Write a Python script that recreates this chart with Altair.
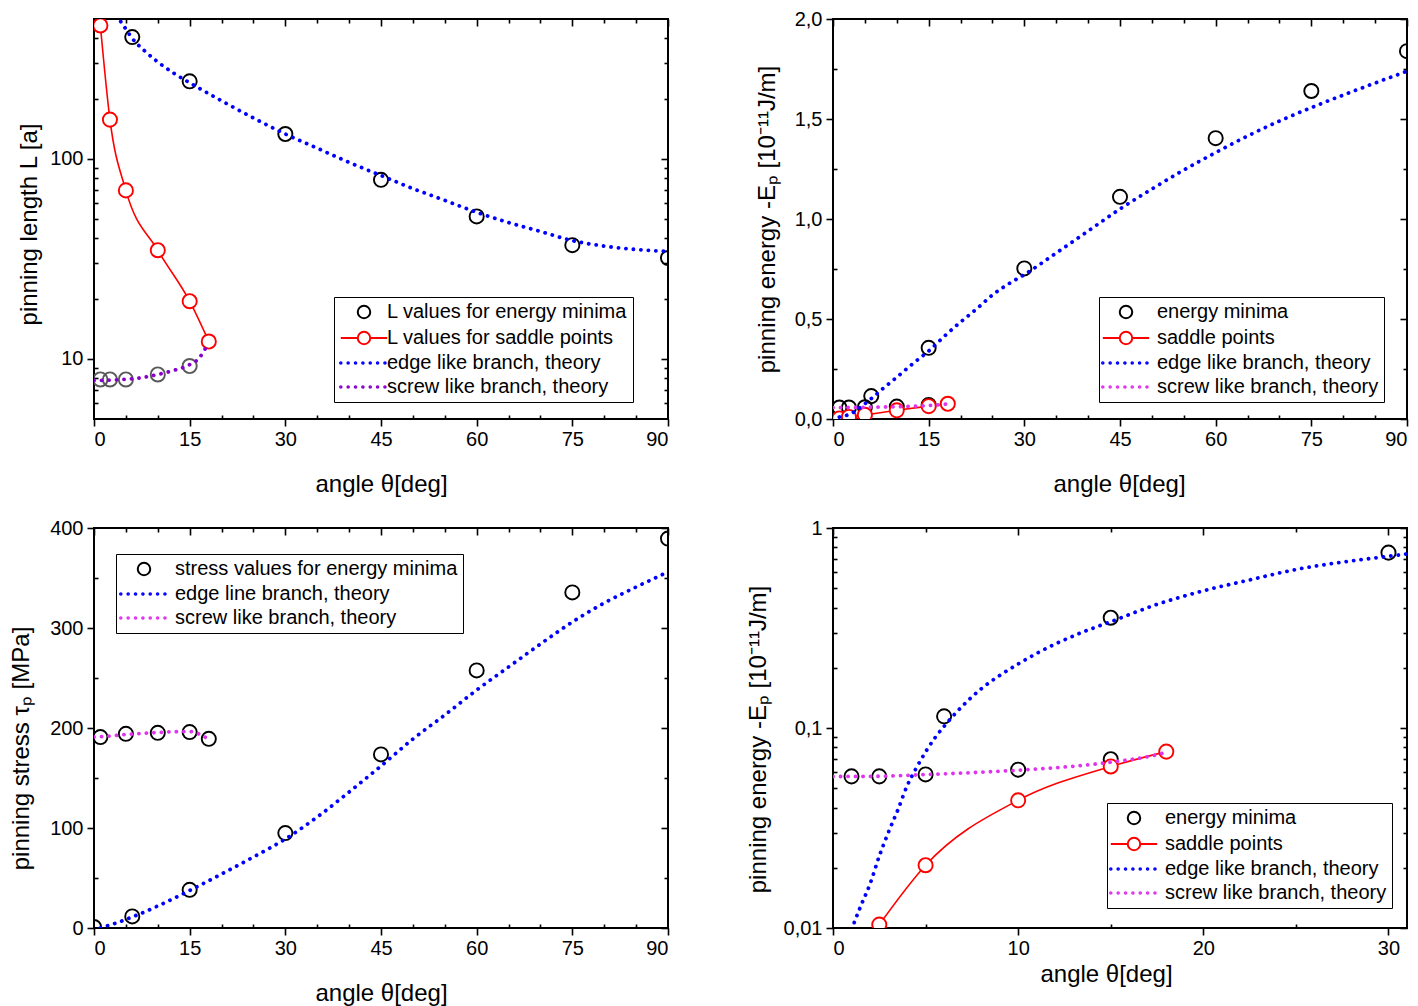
import altair as alt
import pandas as pd

FONT = "Liberation Sans, Arial, Helvetica, sans-serif"
BLACK = "#000000"
RED = "#ff0000"
BLUE = "#0000ff"
PURPLE = "#8800cc"
MAGENTA = "#e033ee"
GREY = "#5a5a5a"

# ---------------- data ----------------
# (a) pinning length L [a]
L_min_screw_angle = [1, 2.5, 5, 10, 15]
L_min_screw = [7.88, 7.88, 7.88, 8.35, 9.2]
L_min_edge_angle = [6, 15, 30, 45, 60, 75, 90]
L_min_edge = [406, 244, 133, 78.5, 51.5, 37.0, 31.9]
saddle_angle = [1, 2.5, 5, 10, 15, 18]
L_saddle = [464, 157, 69.5, 34.9, 19.4, 12.2]
L_edge_theory_angle = [3.5, 4.5, 6, 8, 10, 12.5, 15, 20, 25, 30, 35, 40, 45, 50,
                       55, 60, 65, 70, 75, 80, 85, 90]
L_edge_theory = [520, 470, 400, 345, 305, 268, 240, 195, 160, 133, 113, 96, 82.5, 71,
                 62, 54, 48, 43.3, 39, 36.6, 35.2, 34.4]
L_screw_theory_angle = [0, 2.5, 5, 7.5, 10, 12.5, 15, 16.5, 17.5]
L_screw_theory = [7.8, 7.82, 7.9, 8.05, 8.35, 8.75, 9.35, 10.1, 11.3]

# (b,d) pinning energy -Ep [1e-11 J/m]
E_min_screw_angle = [1, 2.5, 5, 10, 15]
E_min_screw = [0.0573, 0.0573, 0.0586, 0.0619, 0.0698]
E_min_edge_angle = [6, 15, 30, 45, 60, 75, 90]
E_min_edge = [0.1144, 0.356, 0.753, 1.111, 1.404, 1.640, 1.839]
E_saddle = [0.003, 0.0104, 0.0206, 0.0435, 0.0642, 0.0762]
E_edge_theory_angle = [1.0, 1.5, 2.0, 2.5, 3.0, 3.5, 4.0, 4.5, 5.0, 5.5, 6.0, 7.0, 8.0,
                       9.0, 10.0, 11.0, 12.0, 13.5, 15.0, 17.5, 20.0, 22.5, 25.0, 27.5,
                       30.0, 35, 40, 45, 50, 55, 60, 65, 70, 75, 80, 85, 90]
E_edge_theory = [0.0098, 0.0129, 0.0166, 0.0229, 0.0302, 0.0389, 0.0513, 0.0631, 0.0759,
                 0.0891, 0.102, 0.129, 0.157, 0.183, 0.209, 0.236, 0.263, 0.302, 0.34,
                 0.415, 0.485, 0.55, 0.62, 0.675, 0.722, 0.83, 0.94, 1.05, 1.15, 1.245,
                 1.332, 1.415, 1.49, 1.557, 1.62, 1.68, 1.739]
E_screw_theory_angle = [0, 2.5, 5, 7.5, 10, 12.5, 15, 17.5, 18]
E_screw_theory = [0.0572, 0.0574, 0.0585, 0.0598, 0.0615, 0.0638, 0.0675, 0.0735, 0.0755]

# (c) pinning stress tau_p [MPa]
S_min_screw_angle = [1, 5, 10, 15, 18]
S_min_screw = [190.9, 194.2, 195.2, 195.9, 189.2]
S_min_edge_angle = [0, 6, 15, 30, 45, 60, 75, 90]
S_min_edge = [1, 11.6, 38.2, 94.9, 173.6, 257.6, 335.6, 389.4]
S_edge_theory_angle = [1, 3, 6, 10, 15, 20, 25, 30, 35, 40, 45, 50, 55, 60, 65, 70, 75,
                       80, 85, 90]
S_edge_theory = [0, 4, 11, 22, 37.5, 54, 71, 89, 111, 136, 162, 189, 213, 238, 261, 284,
                 306, 325, 341, 356]
S_screw_theory_angle = [0, 2.5, 5, 7.5, 10, 12.5, 15, 16.5, 18]
S_screw_theory = [191, 192, 193.5, 194.5, 195.5, 196.3, 196.5, 194, 188.5]

# legend texts
leg_a = ["L values for energy minima", "L values for saddle points",
         "edge like branch, theory", "screw like branch, theory"]
leg_b = ["energy minima", "saddle points", "edge like branch, theory",
         "screw like branch, theory"]
leg_c = ["stress values for energy minima", "edge line branch, theory",
         "screw like branch, theory"]

X_TITLE = "angle θ[deg]"


def frame(a, v):
    return pd.DataFrame({"angle": a, "v": v})


# -------------- helpers --------------
def enc(ch, xsc, ysc):
    return ch.encode(x=alt.X("angle:Q", scale=xsc, axis=None),
                     y=alt.Y("v:Q", scale=ysc, axis=None))


def dotted(df, color, xsc, ysc):
    return enc(alt.Chart(df).mark_line(interpolate="monotone", clip=True, color=color,
                                       strokeWidth=3.8, strokeDash=[0.1, 7.4],
                                       strokeCap="round"), xsc, ysc)


def solid(df, color, xsc, ysc):
    return enc(alt.Chart(df).mark_line(interpolate="monotone", clip=True, color=color,
                                       strokeWidth=1.6), xsc, ysc)


def circles(df, color, xsc, ysc):
    return enc(alt.Chart(df).mark_point(shape="circle", size=200, strokeWidth=1.9,
                                        color=color, filled=False, opacity=1,
                                        clip=True), xsc, ysc)


def white_circles(df, color, xsc, ysc):
    return enc(alt.Chart(df).mark_point(shape="circle", size=200, strokeWidth=1.9,
                                        filled=True, fill="white", stroke=color,
                                        opacity=1, clip=True), xsc, ysc)


CIRC = "M-0.78,0A0.78,0.78,0,1,0,0.78,0A0.78,0.78,0,1,0,-0.78,0Z"
LINE_CIRC = ("M-2.9,0L-0.78,0M0.78,0L2.9,0"
             "M-0.78,0A0.78,0.78,0,1,0,0.78,0A0.78,0.78,0,1,0,-0.78,0Z")
DOTS = "".join(
    "M{:.2f},0a0.1,0.1,0,1,0,0.2,0a0.1,0.1,0,1,0,-0.2,0Z".format(-3.0 + 0.92 * k)
    for k in range(7)
)


def legend_layer(entries, colors, shapes, lx, ly, so, lo):
    leg = alt.Legend(orient="none", legendX=lx, legendY=ly, title=None,
                     direction="vertical", strokeColor="black", fillColor="white",
                     padding=5, rowPadding=4, labelFont=FONT, labelFontSize=20,
                     labelColor="black", labelLimit=600, symbolSize=256,
                     symbolStrokeWidth=2, symbolOffset=so, labelOffset=lo,
                     cornerRadius=0)
    d = pd.DataFrame({"series": entries})
    return alt.Chart(d).mark_point(filled=False, opacity=1).encode(
        color=alt.Color("series:N", scale=alt.Scale(domain=entries, range=colors),
                        legend=leg),
        shape=alt.Shape("series:N", scale=alt.Scale(domain=entries, range=shapes),
                        legend=leg),
    ).transform_filter("false")


def axes_layers(df, xsc, ysc, xmaj, xmin, ymaj, ymin, ytitle, xt, yt,
                xlabexpr=None, ylabexpr=None):
    base = alt.Chart(df).mark_point(opacity=0, clip=True)
    tk = dict(tickColor="black", tickWidth=1.6, grid=False, domain=False)
    xkw = dict(orient="bottom", values=xmaj, tickSize=7, labelPadding=3,
               labelFontSize=20, labelFont=FONT, labelColor="black",
               title=X_TITLE, titleFont=FONT, titleFontSize=24,
               titleFontWeight="normal", titleColor="black", titleX=xt[0],
               titleY=xt[1], titleBaseline="middle", titleAlign="center", **tk)
    if xlabexpr:
        xkw["labelExpr"] = xlabexpr
    ykw = dict(orient="left", values=ymaj, tickSize=7, labelPadding=4,
               labelFontSize=20, labelFont=FONT, labelColor="black",
               title=ytitle, titleFont=FONT, titleFontSize=24,
               titleFontWeight="normal", titleColor="black", titleX=yt[0],
               titleY=yt[1], titleBaseline="middle", titleAlign="center",
               titleAngle=270, **tk)
    if ylabexpr:
        ykw["labelExpr"] = ylabexpr
    main = base.encode(x=alt.X("angle:Q", scale=xsc, axis=alt.Axis(**xkw)),
                       y=alt.Y("v:Q", scale=ysc, axis=alt.Axis(**ykw)))

    def plain(orient, vals, size):
        return alt.Axis(orient=orient, values=vals, tickSize=size, offset=-size,
                        labels=False, title=None, **tk)

    minor = base.encode(x=alt.X("angle:Q", scale=xsc, axis=plain("bottom", xmin, 4)),
                        y=alt.Y("v:Q", scale=ysc, axis=plain("left", ymin, 4)))
    top_major = base.encode(x=alt.X("angle:Q", scale=xsc, axis=plain("top", xmaj, 7)),
                            y=alt.Y("v:Q", scale=ysc, axis=plain("right", ymaj, 7)))
    top_minor = base.encode(x=alt.X("angle:Q", scale=xsc, axis=plain("top", xmin, 4)),
                            y=alt.Y("v:Q", scale=ysc, axis=plain("right", ymin, 4)))
    return [main, minor, top_major, top_minor]


def panel(layers):
    return alt.layer(*layers).resolve_axis(x="independent", y="independent").properties(
        width=574, height=400)


x90_maj = [0, 15, 30, 45, 60, 75, 90]
x90_min = [5, 10, 20, 25, 35, 40, 50, 55, 65, 70, 80, 85]

# ---------- panel (a) ----------
xs_a = alt.Scale(domain=[0, 90], nice=False, zero=False)
ys_a = alt.Scale(type="log", domain=[5, 500], nice=False)
df_a_ms = frame(L_min_screw_angle, L_min_screw)
df_a_me = frame(L_min_edge_angle, L_min_edge)
df_a_sd = frame(saddle_angle, L_saddle)
df_a_et = frame(L_edge_theory_angle, L_edge_theory)
df_a_st = frame(L_screw_theory_angle, L_screw_theory)
pa = panel([
    circles(df_a_me, BLACK, xs_a, ys_a),
    circles(df_a_ms, GREY, xs_a, ys_a),
    solid(df_a_sd, RED, xs_a, ys_a),
    white_circles(df_a_sd, RED, xs_a, ys_a),
    dotted(df_a_et, BLUE, xs_a, ys_a),
    dotted(df_a_st, PURPLE, xs_a, ys_a),
    legend_layer(leg_a, [BLACK, RED, BLUE, PURPLE], [CIRC, LINE_CIRC, DOTS, DOTS],
                 240, 278, 15, 13),
] + axes_layers(df_a_ms, xs_a, ys_a, x90_maj, x90_min, [10, 100],
                [6, 7, 8, 9, 20, 30, 40, 50, 60, 70, 80, 90, 200, 300, 400],
                "pinning length L [a]", (287, 65), (-65, 205)))

# ---------- panel (b) ----------
xs_b = alt.Scale(domain=[0, 90], nice=False, zero=False)
ys_b = alt.Scale(domain=[0, 2], nice=False, zero=False)
df_b_ms = frame(E_min_screw_angle, E_min_screw)
df_b_me = frame(E_min_edge_angle, E_min_edge)
df_b_sd = frame(saddle_angle, E_saddle)
df_b_et = frame(E_edge_theory_angle, E_edge_theory)
df_b_st = frame(E_screw_theory_angle, E_screw_theory)
pb = panel([
    circles(df_b_me, BLACK, xs_b, ys_b),
    circles(df_b_ms, BLACK, xs_b, ys_b),
    solid(df_b_sd, RED, xs_b, ys_b),
    white_circles(df_b_sd, RED, xs_b, ys_b),
    dotted(df_b_et, BLUE, xs_b, ys_b),
    dotted(df_b_st, MAGENTA, xs_b, ys_b),
    legend_layer(leg_b, [BLACK, RED, BLUE, MAGENTA], [CIRC, LINE_CIRC, DOTS, DOTS],
                 266, 278, 12, 21),
] + axes_layers(df_b_ms, xs_b, ys_b, x90_maj, x90_min, [0, 0.5, 1, 1.5, 2],
                [0.25, 0.75, 1.25, 1.75], "pinning energy -Eₚ [10⁻¹¹J/m]",
                (286, 65), (-66, 200),
                ylabexpr="replace(format(datum.value, '.1f'), '.', ',')"))

# ---------- panel (c) ----------
xs_c = alt.Scale(domain=[0, 90], nice=False, zero=False)
ys_c = alt.Scale(domain=[0, 400], nice=False, zero=False)
df_c_ms = frame(S_min_screw_angle, S_min_screw)
df_c_me = frame(S_min_edge_angle, S_min_edge)
df_c_et = frame(S_edge_theory_angle, S_edge_theory)
df_c_st = frame(S_screw_theory_angle, S_screw_theory)
pc = panel([
    circles(df_c_me, BLACK, xs_c, ys_c),
    circles(df_c_ms, BLACK, xs_c, ys_c),
    dotted(df_c_et, BLUE, xs_c, ys_c),
    dotted(df_c_st, MAGENTA, xs_c, ys_c),
    legend_layer(leg_c, [BLACK, BLUE, MAGENTA], [CIRC, DOTS, DOTS],
                 22, 26, 13, 21),
] + axes_layers(df_c_ms, xs_c, ys_c, x90_maj, x90_min, [0, 100, 200, 300, 400],
                [50, 150, 250, 350], "pinning stress τₚ [MPa]", (287, 65), (-73, 220)))

# ---------- panel (d) ----------
xs_d = alt.Scale(domain=[0, 31], nice=False, zero=False)
ys_d = alt.Scale(type="log", domain=[0.01, 1], nice=False)
df_d_sd = frame(saddle_angle[1:], E_saddle[1:])
pd_ = panel([
    circles(df_b_me, BLACK, xs_d, ys_d),
    circles(df_b_ms, BLACK, xs_d, ys_d),
    solid(df_d_sd, RED, xs_d, ys_d),
    white_circles(df_b_sd, RED, xs_d, ys_d),
    dotted(df_b_et, BLUE, xs_d, ys_d),
    dotted(df_b_st, MAGENTA, xs_d, ys_d),
    legend_layer(leg_b, [BLACK, RED, BLUE, MAGENTA], [CIRC, LINE_CIRC, DOTS, DOTS],
                 274, 275, 12, 21),
] + axes_layers(df_b_ms, xs_d, ys_d, [0, 10, 20, 30], [5, 15, 25], [0.01, 0.1, 1],
                [0.02, 0.03, 0.04, 0.05, 0.06, 0.07, 0.08, 0.09,
                 0.2, 0.3, 0.4, 0.5, 0.6, 0.7, 0.8, 0.9],
                "pinning energy -Eₚ [10⁻¹¹J/m]", (273, 46), (-75, 211),
                ylabexpr="datum.value >= 1 ? '1' : replace(format(datum.value, '.2~f'), '.', ',')"))

chart = alt.concat(pa, pb, pc, pd_, columns=2,
                   spacing={"row": 109, "column": 165}, bounds="flush").resolve_scale(
    color="independent", shape="independent"
).properties(
    padding=0, background="white"
).configure_view(stroke="black", strokeWidth=2)

chart.save("out.html", embed_options={"renderer": "svg", "actions": False})
